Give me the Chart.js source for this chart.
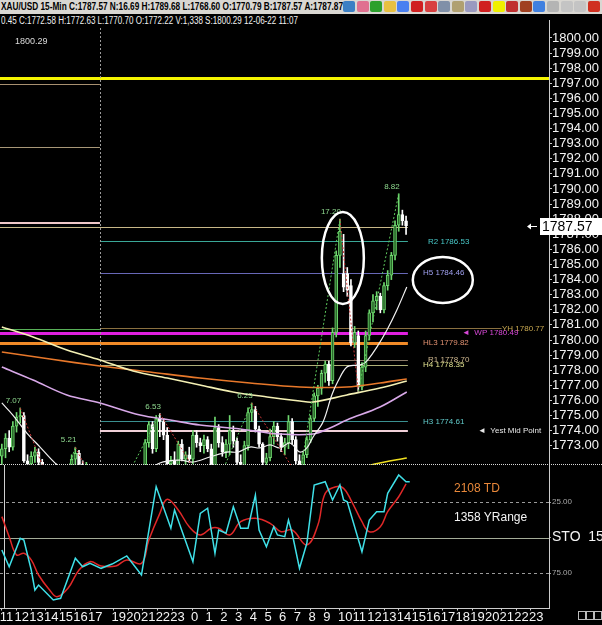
<!DOCTYPE html>
<html>
<head>
<meta charset="utf-8">
<script src="https://cdn.jsdelivr.net/npm/chart.js@4.4.0/dist/chart.umd.min.js"></script>
<style>
body { margin:0; background:#000; width:602px; height:625px; overflow:hidden; position:relative; font-family:"Liberation Sans", Arial, sans-serif; }
#hdr1 { position:absolute; left:0; top:0; width:602px; height:14px; background:#d9d7d2; }
#hdr2 { position:absolute; left:0; top:14px; width:602px; height:14px; background:#000; }
.fit { position:absolute; left:1px; top:0; white-space:nowrap; transform-origin:0 0; line-height:14px; font-size:10px; }
#hdr1 .fit { font-weight:bold; color:#000; }
#hdr2 .fit { color:#f0f0f0; }
#icons { position:absolute; left:343px; top:1px; height:12px; display:flex; gap:1.6px; }
#icons span { width:12px; height:11px; display:block; border-radius:2px; }
canvas { position:absolute; left:0; }
#price { top:28px; }
#sto { top:465px; }
.sep { position:absolute; left:0; top:464px; width:602px; border-top:1px dotted #d8d8d8; }
.axtop { position:absolute; left:549px; top:20px; width:1px; height:8px; background:#ccc; }
.note { position:absolute; font-size:12px; line-height:14px; white-space:nowrap; }
.sq { position:absolute; top:611px; width:6px; height:7px; border:1px solid #bbb; }
</style>
</head>
<body>
<div id="hdr1"><div class="fit" data-w="342">XAU/USD 15-Min C:1787.57 N:16.69 H:1789.68 L:1768.60 O:1770.79 B:1787.57 A:1787.87</div><div id="icons"></div></div>
<div id="hdr2"><div class="fit" data-w="297">0.45 C:1772.58 H:1772.63 L:1770.70 O:1772.22 V:1,338 S:1800.29 12-06-22 11:07</div></div>
<div class="axtop"></div>
<canvas id="price" width="602" height="437"></canvas>
<canvas id="sto" width="602" height="160"></canvas>
<div class="sep"></div>
<div class="note" style="left:454px; top:481px; color:#e8883a;">2108 TD</div>
<div class="note" style="left:454px; top:510px; color:#f4f4f4;">1358 YRange</div>
<div class="sq" style="left:578px;"></div>
<div class="sq" style="left:586px;"></div>
<div class="sq" style="left:594px;"></div>
<script>
// ---- data (15 minute bars, bar 0 = 11:00) ----
const hourLabels = ['11','12','13','14','15','16','17','19','20','21','22','23',
  '0','1','2','3','4','5','6','7','8','9','10','11','12','13','14','15','16','17','18','19','20','21','22','23'];
// bar index where each hour label sits (18:00 is not labelled)
const hourTickBars = [0,4,8,12,16,20,24,30.4,34.4,38.4,42.4,46.4,
  52,56,60,64,68,72,76,80,84,88,92,96,100,104,108,112,116,120,124,128,132,136,140,144];
const priceTicks = [1800,1799,1798,1797,1796,1795,1794,1793,1792,1791,1790,1789,1788,1787,1786,
  1785,1784,1783,1782,1781,1780,1779,1778,1777,1776,1775,1774,1773];

const opens  = [1772.3,1772.8,1773.5,1772.9,1774.3,1774.9,1775.0,1772.0,1771.8,1772.3,1772.6,1771.9,1771.0,1770.5,1770.1,1769.8,1769.6,1770.0,1770.6,1771.2,
  1772.1,1772.5,1771.7,1771.3,1771.6,1770.9,1770.4,1769.8,1769.3,1769.5,1768.9,1769.4,1769.8,1770.2,1769.9,1770.4,1770.8,1771.1,1770.9,1771.4,
  1773.2,1774.4,1772.8,1774.8,1774.6,1773.7,1771.8,1772.0,1771.6,1773.1,1772.1,1772.4,1772.1,1773.7,1773.2,1773.0,1773.4,1772.8,1770.2,1774.2,
  1773.2,1772.6,1773.1,1774.0,1773.3,1771.9,1771.2,1773.0,1775.2,1775.4,1774.1,1773.1,1771.9,1772.2,1773.6,1774.3,1773.6,1772.9,1773.2,1774.6,
  1773.4,1772.0,1771.3,1772.4,1773.4,1774.8,1776.3,1776.8,1777.8,1778.4,1777.3,1780.5,1785.6,1784.4,1784.4,1783.6,1779.8,1780.3,1776.9,1778.2,
  1780.3,1781.8,1782.6,1782.9,1782.0,1783.6,1784.3,1785.6,1787.6,1788.3,1787.9];
const highs  = [1773.1,1773.8,1774.0,1774.6,1775.2,1775.5,1775.2,1772.4,1772.6,1772.9,1772.8,1772.1,1771.4,1770.9,1770.6,1770.3,1770.2,1770.8,1771.5,1772.4,
  1772.9,1772.7,1772.0,1771.9,1771.7,1771.2,1770.7,1770.0,1769.8,1769.9,1769.6,1770.0,1770.4,1770.5,1770.6,1771.0,1771.4,1771.5,1771.6,1773.4,
  1774.6,1774.6,1775.0,1775.13,1774.8,1774.2,1772.3,1772.6,1773.3,1773.4,1772.6,1772.9,1774.0,1774.0,1773.5,1773.7,1773.6,1773.1,1774.9,1774.4,
  1773.6,1773.4,1775.0,1774.3,1773.5,1772.4,1773.3,1775.5,1775.83,1775.6,1774.3,1773.2,1772.5,1774.1,1774.6,1774.5,1773.8,1773.5,1775.0,1774.8,
  1773.6,1772.4,1772.6,1773.6,1775.0,1776.5,1777.0,1778.0,1778.6,1778.6,1780.8,1785.9,1788.0,1787.0,1784.8,1784.0,1780.9,1780.6,1778.5,1780.6,
  1782.0,1783.0,1783.2,1783.1,1783.8,1784.6,1785.8,1787.9,1789.68,1788.6,1788.2];
const lows   = [1771.2,1772.2,1772.6,1772.7,1773.9,1774.5,1771.9,1771.3,1771.5,1771.9,1771.7,1770.8,1770.2,1769.8,1769.5,1769.2,1769.1,1769.8,1770.3,1771.0,
  1771.6,1771.5,1771.0,1770.8,1770.6,1770.2,1769.5,1769.0,1768.9,1768.6,1768.7,1769.1,1769.5,1769.6,1769.7,1770.1,1770.4,1770.6,1770.7,1771.3,
  1772.9,1772.5,1772.6,1773.6,1773.4,1771.5,1771.0,1771.4,1771.2,1772.0,1771.5,1771.9,1771.8,1772.9,1772.6,1772.5,1772.6,1769.6,1770.0,1772.9,
  1772.3,1772.2,1772.4,1772.9,1771.7,1770.9,1771.0,1772.7,1774.6,1773.9,1772.9,1771.6,1771.4,1772.0,1773.1,1773.3,1772.6,1772.4,1772.8,1773.1,
  1771.8,1770.8,1771.1,1772.2,1773.2,1774.6,1775.6,1776.4,1777.2,1777.0,1777.1,1780.2,1784.8,1783.2,1782.9,1779.6,1779.5,1776.6,1776.7,1777.9,
  1780.0,1781.2,1782.0,1781.8,1781.8,1783.3,1784.0,1785.3,1787.2,1787.6,1787.0];
const closes = [1772.8,1773.5,1772.9,1774.3,1774.9,1775.0,1772.0,1771.8,1772.3,1772.6,1771.9,1771.0,1770.5,1770.1,1769.8,1769.6,1770.0,1770.6,1771.2,1772.1,
  1772.5,1771.7,1771.3,1771.6,1770.9,1770.4,1769.8,1769.3,1769.5,1768.9,1769.4,1769.8,1770.2,1769.9,1770.4,1770.8,1771.1,1770.9,1771.4,1773.2,
  1774.4,1772.8,1774.8,1774.6,1773.7,1771.8,1772.0,1771.6,1773.1,1772.1,1772.4,1772.1,1773.7,1773.2,1773.0,1773.4,1772.8,1770.2,1774.2,1773.2,
  1772.6,1773.1,1774.0,1773.3,1771.9,1771.2,1773.0,1775.2,1775.4,1774.1,1773.1,1771.9,1772.2,1773.6,1774.3,1773.6,1772.9,1773.2,1774.6,1773.4,
  1772.0,1771.3,1772.4,1773.4,1774.8,1776.3,1776.8,1777.8,1778.4,1777.3,1780.5,1785.6,1787.2,1783.5,1783.3,1779.8,1780.5,1776.9,1778.2,1780.3,
  1781.8,1782.6,1782.9,1782.0,1783.6,1784.3,1785.6,1787.6,1788.3,1787.9,1787.57];
const lastPrice = 1787.57;

// moving averages (bar, price)
const fastBars = [0,3,6.8,10.4,14.5,18.5,26.7,34.9,43,48.5,52,56.6,61.3,64.3,67.5,70.2,73,75.7,78.4,81.1,83,84.7,87.4,89.8,91.5,93.9,96.6,98.3,99.6,102.1,104.8,107.5,110.2];
const fastVals = [1775.83,1775.03,1773.84,1772.91,1771.85,1771.1,1770.3,1770.6,1771.85,1772.05,1771.92,1772.25,1772.58,1772.58,1772.91,1772.85,1773.05,1772.85,1773.18,1772.58,1772.85,1773.58,1774.57,1776.36,1777.28,1778.21,1778.34,1778.41,1778.68,1779.54,1780.66,1781.99,1783.51];
const slowBars = [0,8.5,17.7,26.7,35.7,45,53.9,62.9,72.2,81.1,84.7,93.9,102.9,110.2];
const slowVals = [1780.86,1780.2,1779.34,1778.68,1777.95,1777.48,1777.02,1776.56,1776.23,1775.96,1775.89,1776.36,1776.82,1777.28];
const longBars = [0,13.1,26.7,40.3,53.9,67.5,81.1,93.9,102.9,110.2];
const longVals = [1779.21,1778.74,1778.28,1777.88,1777.48,1777.15,1776.89,1776.89,1777.15,1777.42];
const midBars = [0,8.5,17.7,26.7,37.6,45.8,53.9,64.8,75.7,84.7,89.3,93.9,102.9,110.2];
const midVals = [1778.21,1777.35,1776.36,1775.83,1775.03,1774.7,1774.37,1774.11,1773.77,1773.77,1774.17,1774.7,1775.56,1776.56];
const farBars = [92,101.5,110.2];
const farVals = [1771.06,1771.79,1772.19];

// zigzag swings and their size labels
const zigzagBars = [5,15,20,29,43,57,68,81,92,97,108];
const zigzagPrices = [1775.5,1769.2,1772.9,1768.6,1775.13,1769.6,1775.83,1770.8,1788.0,1776.6,1789.68];
const swingBars = [5,20,43,68,92,108];
const swingPrices = [1775.5,1772.9,1775.13,1775.83,1788.0,1789.68];
const swingTexts = ['7.07','5.21','6.53','6.23','17.20','8.82'];

// pivot / level lines
const levelNames = ['Top','PrevA','PrevB','PrevC','PrevD','Close','R2','H5','YH','WP','HL3','R1','H4','H3','YestMid'];
const levelValues = [1797.35,1796.95,1792.78,1787.77,1780.73,1787.5,1786.53,1784.46,1780.77,1780.49,1779.82,1778.70,1778.35,1774.61,1774.0];

// stochastic (reversed scale as on the chart)
const kBars = [0,2,5,6,8,9,10,14,16,20,22,24,27,30,34,38,42,46,47,52,54,56,58,59,61,63,65,67,69,70,72,74,75,77,78,79,81,83,85,88,90,92,93,94,98,100,102,104,105,108,110,111];
const kVals = [58.8,70.6,50.6,51.8,72.9,87,83.5,94,92.8,64.6,70.6,68.2,71.7,68.7,63,76.4,14.2,43.5,30.6,67,33,29.4,61.1,44.7,47,28.3,43.5,43.5,20.1,44.7,56.5,42.4,48.2,49.4,37.7,47,71.7,54.1,13,10.7,23.6,13,23.6,24.8,60,37.7,31.8,31.8,18.9,6,10.7,10.7];
const dBars = [0,2,4,6,8,10,13,15,18,21,24,27,31,34,38,40,43,45,48,51,54,57,59,62,65,69,73,76,79,83,86,88,91,93,95,98,100,103,105,108,110];
const dVals = [35.3,49.4,62.3,61.1,65.8,76.4,87,91.7,85.8,72.9,67,70.1,70.1,65.8,68.2,51.8,33,23.1,30.6,42.4,48.2,43.5,43.5,48.2,38.9,36.5,40,45.9,44.7,55.3,41.2,18.9,14.2,15.4,23.6,38.9,45.9,42.4,31.8,21.3,12.3];
const stoLevels = [25, 50, 75];

// ---- look ----
const X_MIN = -0.5, X_MAX = 148.9;
const FONT = '"Liberation Sans", Arial, sans-serif';
const UP = '#6fd86f', UP_FILL = '#2a6a2a', DOWN = '#ffffff';
const SESSION = 26.7, END = 110.5;
const levelStyle = {
  Top:    {color:'#f5f500', width:3, from:X_MIN, to:X_MAX},
  PrevA:  {color:'#a89070', width:1, from:X_MIN, to:SESSION},
  PrevB:  {color:'#a89878', width:1, from:X_MIN, to:SESSION},
  PrevC:  {color:'#f0c8c8', width:2, from:X_MIN, to:SESSION},
  PrevD:  {color:'#58b058', width:1, from:X_MIN, to:SESSION},
  Close:  {color:'#c8b888', width:1, from:X_MIN, to:END},
  R2:     {color:'#3aa898', width:1, from:SESSION, to:END, lx:428, lc:'#48c8c8'},
  H5:     {color:'#6868b8', width:1, from:SESSION, to:END, lx:423, lc:'#a0a0f0'},
  YH:     {color:'#8a7040', width:1, from:SESSION, to:136, lx:502, lc:'#c8a850'},
  WP:     {color:'#e020e0', width:3, from:X_MIN, to:END, lx:462, lc:'#d848d8', arrow:true},
  HL3:    {color:'#f08a28', width:3, from:X_MIN, to:END, lx:423, lc:'#e09070'},
  R1:     {color:'#8a7a68', width:1, from:SESSION, to:END, lx:428, lc:'#d0b890'},
  H4:     {color:'#b0b078', width:1, from:SESSION, to:END, lx:423, lc:'#e0e090'},
  H3:     {color:'#3a9090', width:1, from:SESSION, to:END, lx:423, lc:'#60c8c8'},
  YestMid:{color:'#f0d0d8', width:2, from:SESSION, to:END, lx:478, lc:'#e8e8e8', arrow:true, text:'Yest Mid Point'}
};
const ellipses = [
  {bar:92.8, price:1785.43, rx:21, ry:46},
  {bar:120.0, price:1783.97, rx:30, ry:23}
];

function pts(xs, ys) { return xs.map((x, i) => ({x: x, y: ys[i]})); }
function isUp(i) { return closes[i] >= opens[i]; }

const priceOverlay = {
  id: 'priceOverlay',
  beforeDatasetsDraw(chart) {
    const {ctx, chartArea, scales: {x, y}} = chart;
    ctx.save();
    levelNames.forEach((name, i) => {
      const st = levelStyle[name];
      let py = Math.round(y.getPixelForValue(levelValues[i]));
      if (st.width % 2) py += 0.5;
      ctx.strokeStyle = st.color;
      ctx.lineWidth = st.width;
      ctx.beginPath();
      ctx.moveTo(x.getPixelForValue(st.from), py);
      ctx.lineTo(x.getPixelForValue(st.to), py);
      ctx.stroke();
    });
    // session separator
    const sx = Math.round(x.getPixelForValue(SESSION)) + 0.5;
    ctx.strokeStyle = '#9a9a9a';
    ctx.lineWidth = 1;
    ctx.setLineDash([2, 2]);
    ctx.beginPath();
    ctx.moveTo(sx, chartArea.top);
    ctx.lineTo(sx, chartArea.bottom);
    ctx.stroke();
    ctx.restore();
  },
  afterDatasetsDraw(chart) {
    const {ctx, scales: {x, y}} = chart;
    ctx.save();
    // level labels
    ctx.font = '8px ' + FONT;
    ctx.textBaseline = 'middle';
    levelNames.forEach((name, i) => {
      const st = levelStyle[name];
      if (st.lx === undefined) return;
      const txt = (st.arrow ? '\u25C4  ' : '') + (st.text || (name + ' ' + levelValues[i].toFixed(2)));
      ctx.fillStyle = st.lc;
      ctx.fillText(txt, st.lx, y.getPixelForValue(levelValues[i]));
    });
    // swing sizes
    ctx.fillStyle = '#8ed88e';
    ctx.textAlign = 'right';
    ctx.textBaseline = 'bottom';
    swingTexts.forEach((t, i) => {
      ctx.fillText(t, x.getPixelForValue(swingBars[i]) + 1, y.getPixelForValue(swingPrices[i]) - 3);
    });
    // hand drawn ellipses
    ctx.strokeStyle = '#ffffff';
    ctx.lineWidth = 2.5;
    ellipses.forEach(e => {
      ctx.beginPath();
      ctx.ellipse(x.getPixelForValue(e.bar), y.getPixelForValue(e.price), e.rx, e.ry, 0, 0, Math.PI * 2);
      ctx.stroke();
    });
    ctx.restore();
  },
  afterDraw(chart) {
    const {ctx, scales: {y}} = chart;
    ctx.save();
    ctx.font = '9px ' + FONT;
    ctx.fillStyle = '#dcdcdc';
    ctx.textBaseline = 'middle';
    ctx.fillText('1800.29', 15, 14);
    // current price box
    const py = Math.round(y.getPixelForValue(lastPrice));
    ctx.fillStyle = '#ffffff';
    ctx.fillRect(540, py - 8, 62, 17);
    ctx.fillStyle = '#000000';
    ctx.font = '14px ' + FONT;
    ctx.fillText(lastPrice.toFixed(2), 542, py + 1);
    ctx.strokeStyle = '#ffffff';
    ctx.lineWidth = 1;
    ctx.beginPath();
    ctx.moveTo(530, py + 0.5); ctx.lineTo(537, py + 0.5);
    ctx.stroke();
    ctx.beginPath();
    ctx.moveTo(527, py + 0.5); ctx.lineTo(531, py - 2.5); ctx.lineTo(531, py + 3.5); ctx.closePath();
    ctx.fillStyle = '#ffffff';
    ctx.fill();
    ctx.restore();
  }
};

new Chart(document.getElementById('price'), {
  type: 'bar',
  data: {
    datasets: [
      {type:'line', label:'Zigzag', data: pts(zigzagBars, zigzagPrices), borderWidth:1, borderDash:[2,2], pointRadius:0,
        segment:{borderColor: c => c.p1.parsed.y > c.p0.parsed.y ? '#5cc85c' : '#c83838'}, order:0},
      {type:'line', label:'MA fast', data: pts(fastBars, fastVals), borderColor:'#f2f2f2', borderWidth:1.2, pointRadius:0, tension:0.35, order:1},
      {type:'line', label:'MA slow', data: pts(slowBars, slowVals), borderColor:'#f4f0b4', borderWidth:1.6, pointRadius:0, tension:0.35, order:2},
      {type:'line', label:'MA long', data: pts(longBars, longVals), borderColor:'#e8782a', borderWidth:1.6, pointRadius:0, tension:0.35, order:3},
      {type:'line', label:'MA mid', data: pts(midBars, midVals), borderColor:'#d8a8e8', borderWidth:1.6, pointRadius:0, tension:0.35, order:3},
      {type:'line', label:'MA far', data: pts(farBars, farVals), borderColor:'#f0e020', borderWidth:1.6, pointRadius:0, tension:0.3, order:3},
      {label:'Bodies', data: opens.map((o, i) => ({x:i, y:[Math.min(o, closes[i]), Math.max(o, closes[i])]})),
        backgroundColor: c => isUp(c.dataIndex) ? UP_FILL : DOWN,
        borderColor: c => isUp(c.dataIndex) ? UP : DOWN,
        borderWidth:1, borderSkipped:false, barThickness:3, grouped:false, order:5},
      {label:'Wicks', data: lows.map((l, i) => ({x:i, y:[l, highs[i]]})),
        backgroundColor: c => isUp(c.dataIndex) ? UP : DOWN,
        borderWidth:0, barThickness:1, grouped:false, order:6}
    ]
  },
  options: {
    responsive:false, animation:false, devicePixelRatio:1,
    layout:{padding:0},
    plugins:{legend:{display:false}, tooltip:{enabled:false}},
    scales:{
      x:{type:'linear', min:X_MIN, max:X_MAX, offset:false, display:false},
      y:{position:'right', min:1771.722, max:1800.662,
        afterBuildTicks: s => { s.ticks = priceTicks.map(v => ({value:v})); },
        afterFit: s => { s.width = 53; s.paddingTop = 0; s.paddingBottom = 0; },
        ticks:{color:'#f4f4f4', font:{family:FONT, size:13}, padding:0, autoSkip:false,
          callback: v => v.toFixed(2)},
        grid:{drawOnChartArea:false, drawTicks:true, tickLength:3, tickColor:'#cccccc'},
        border:{display:true, color:'#cccccc'}}
    }
  },
  plugins:[priceOverlay]
});

const stoOverlay = {
  id: 'stoOverlay',
  beforeDatasetsDraw(chart) {
    const {ctx, chartArea, scales: {x, y}} = chart;
    ctx.save();
    stoLevels.forEach(v => {
      const py = Math.round(y.getPixelForValue(v)) + 0.5;
      ctx.strokeStyle = v === 50 ? '#a4ac98' : '#9a9a9a';
      ctx.setLineDash(v === 50 ? [] : [3, 3]);
      ctx.lineWidth = 1;
      ctx.beginPath();
      ctx.moveTo(chartArea.left, py);
      ctx.lineTo(chartArea.right, py);
      ctx.stroke();
    });
    ctx.setLineDash([]);
    const vx = Math.round(x.getPixelForValue(0.6)) + 0.5;
    ctx.strokeStyle = '#d0d0d0';
    ctx.beginPath();
    ctx.moveTo(vx, chartArea.top);
    ctx.lineTo(vx, chartArea.bottom);
    ctx.stroke();
    ctx.restore();
  }
};

new Chart(document.getElementById('sto'), {
  type: 'line',
  data: {
    datasets: [
      {label:'%K', data: pts(kBars, kVals), borderColor:'#3fe0e8', borderWidth:1.5, pointRadius:0, tension:0},
      {label:'%D', data: pts(dBars, dVals), borderColor:'#e02828', borderWidth:1.5, pointRadius:0, tension:0.4}
    ]
  },
  options: {
    responsive:false, animation:false, devicePixelRatio:1,
    layout:{padding:0},
    plugins:{legend:{display:false}, tooltip:{enabled:false}},
    scales:{
      x:{type:'linear', min:X_MIN, max:X_MAX, offset:false,
        afterBuildTicks: s => { s.ticks = hourTickBars.map(b => ({value:b})); },
        afterFit: s => { s.height = 16.5; s.paddingLeft = 0; s.paddingRight = 0; },
        ticks:{color:'#f4f4f4', font:{family:FONT, size:13}, padding:-1, autoSkip:false, maxRotation:0, minRotation:0,
          align:'start', labelOffset:-2,
          callback: (v, i) => hourLabels[i]},
        grid:{drawOnChartArea:false, drawTicks:true, tickLength:2, tickColor:'#cccccc'},
        border:{display:true, color:'#cccccc'}},
      y:{position:'right', reverse:true, min:-1.06, max:100,
        afterBuildTicks: s => { s.ticks = stoLevels.map(v => ({value:v})); },
        afterFit: s => { s.width = 53; s.paddingTop = 0; s.paddingBottom = 0; },
        ticks:{autoSkip:false, padding:1,
          color: c => c.tick && c.tick.value === 50 ? '#f4f4f4' : '#a8a8a8',
          font: c => c.tick && c.tick.value === 50 ? {family:FONT, size:14} : {family:FONT, size:8},
          callback: v => v === 50 ? 'STO  15,' : v.toFixed(2)},
        grid:{drawOnChartArea:false, drawTicks:true, tickLength:2, tickColor:'#9a9a9a'},
        border:{display:true, color:'#cccccc'}}
    }
  },
  plugins:[stoOverlay]
});

// toolbar icons in the header
const iconColors = ['#3b7fc4','#e07090','#2ca02c','#e8c040','#4a80f0','#d02020','#d84040','#8090a8','#b0a070','#9a9ac0',
  '#d02020','#f0f000','#c03030','#a04020','#4080e0','#b4b4b4','#c4c4c4','#c4c4c4','#d03020'];
const iconBox = document.getElementById('icons');
iconColors.forEach(c => {
  const s = document.createElement('span');
  s.style.background = c;
  iconBox.appendChild(s);
});

// squeeze header text to the width it has on the original
document.querySelectorAll('.fit').forEach(el => {
  const w = el.getBoundingClientRect().width;
  el.style.transform = 'scaleX(' + (Number(el.dataset.w) / w) + ')';
});
</script>
</body>
</html>
